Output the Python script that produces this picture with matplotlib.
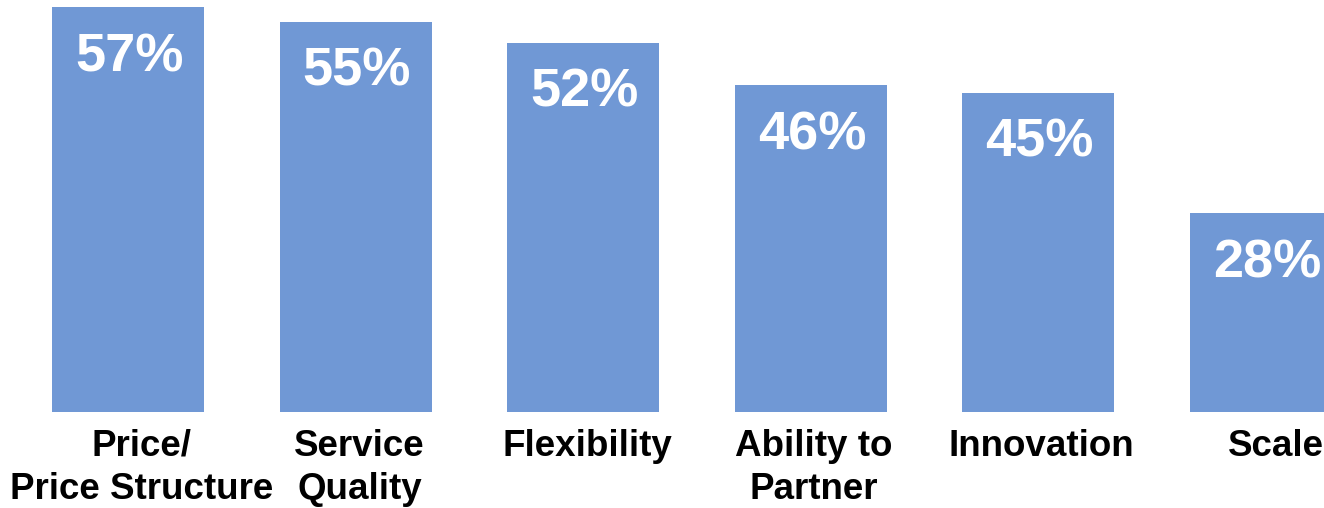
import matplotlib
matplotlib.use("Agg")
import matplotlib.pyplot as plt
from matplotlib.transforms import ScaledTranslation

categories = ["Price/\nPrice Structure", "Service\nQuality", "Flexibility",
              "Ability to\nPartner", "Innovation", "Scale"]
values = [57, 55, 52, 46, 45, 28]

plt.rcParams['font.family'] = ['Liberation Sans', 'DejaVu Sans']

fig = plt.figure(figsize=(13.24, 5.08), dpi=100)
# axes extend past the right edge, like the cropped original
ax = fig.add_axes([14.2 / 1324, 96 / 508, 1365.6 / 1324, 426 / 508])

xs = list(range(len(values)))
ax.bar(xs, values, width=0.668, color='#7098D5')

for x, v in zip(xs, values):
    ax.annotate(f"{v}%", (x, v), textcoords="offset points", xytext=(1, -36),
                ha='center', va='center', color='white', fontsize=39,
                fontweight='bold')

ax.set_xlim(-0.5, 5.5)
ax.set_ylim(0, 60)
ax.set_xticks(xs)
ax.set_xticklabels(categories, fontsize=26.5, fontweight='bold',
                   linespacing=1.3)
ax.tick_params(axis='x', length=0, pad=12)
# labels in the original sit a little right of the bar centres
shifts = [14, 4, 4, 3, 3, 10]
for lbl, dx in zip(ax.get_xticklabels(), shifts):
    lbl.set_transform(lbl.get_transform() +
                      ScaledTranslation(dx / 100, 0, fig.dpi_scale_trans))
ax.set_yticks([])
for s in ax.spines.values():
    s.set_visible(False)

fig.savefig("out.png", dpi=100)
